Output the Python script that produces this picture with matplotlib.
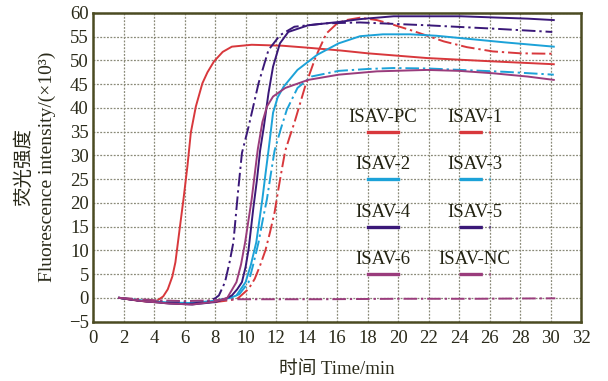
import matplotlib
matplotlib.use('Agg')
import matplotlib.pyplot as plt

plt.rcParams['font.family'] = ['Liberation Serif', 'Noto Sans CJK SC']

# --- data (time in min, intensity in x10^3) ---
t_pc = [1.7, 2.5, 3.5, 4.2, 4.6, 4.9, 5.2, 5.4, 5.65, 5.93, 6.19, 6.41, 6.74, 7.17, 7.5, 7.93, 8.5, 9.1, 10.4, 12.4, 14.0, 16.2, 18.0, 21.9, 26.2, 30.2]
v_pc = [0, -0.4, -0.8, -0.6, 0.3, 1.8, 4.5, 7.5, 13.8, 20.8, 27.8, 34.8, 40.3, 45.2, 47.5, 49.8, 51.8, 52.9, 53.3, 53.1, 52.7, 52.1, 51.5, 50.5, 49.8, 49.2]

t_1 = [1.7, 3.0, 5.0, 6.5, 8.0, 9.0, 9.5, 10.2, 10.6, 10.95, 11.3, 11.6, 11.9, 12.15, 12.4, 12.6, 12.9, 13.2, 13.9, 14.6, 15.3, 16.0, 16.6, 17.5, 18.6, 19.5, 20.8, 23.0, 24.5, 26.2, 28.0, 30.2]
v_1 = [0, -0.4, -0.9, -1.1, -0.9, -0.5, -0.1, 1.9, 4.0, 6.8, 10.0, 13.8, 18.0, 22.9, 27.5, 31.0, 34.0, 36.9, 44.5, 50.8, 55.7, 57.8, 58.5, 59.0, 58.5, 57.7, 56.4, 54.0, 52.8, 51.9, 51.5, 51.4]

t_2 = [1.7, 3.0, 5.0, 6.5, 8.0, 9.0, 9.4, 10.0, 10.35, 10.7, 11.1, 11.3, 11.5, 11.8, 12.1, 12.5, 13.4, 14.7, 16.1, 17.5, 19.0, 20.8, 22.5, 24.1, 27.0, 30.2]
v_2 = [0, -0.5, -1.0, -1.1, -0.6, 0.0, 0.5, 3.3, 7.0, 11.7, 20.8, 26.0, 31.0, 39.0, 42.2, 44.5, 48.0, 51.2, 53.6, 55.1, 55.5, 55.5, 55.2, 54.7, 53.8, 52.9]

t_3 = [1.7, 3.0, 5.0, 6.5, 8.0, 9.0, 9.6, 10.2, 10.5, 10.85, 11.1, 11.4, 11.65, 11.9, 12.3, 12.7, 13.4, 14.3, 16.1, 18.0, 19.7, 22.0, 24.1, 27.0, 30.2]
v_3 = [0, -0.5, -0.9, -1.0, -0.6, -0.1, 0.8, 3.3, 7.0, 11.7, 16.0, 20.8, 26.0, 31.0, 35.5, 39.6, 44.2, 46.6, 47.8, 48.2, 48.4, 48.3, 48.0, 47.6, 47.0]

t_4 = [1.7, 3.0, 5.0, 6.5, 8.0, 8.7, 9.1, 9.45, 9.76, 10.0, 10.2, 10.5, 10.75, 10.95, 11.2, 11.5, 11.8, 12.25, 12.8, 14.1, 16.1, 17.5, 19.7, 24.1, 28.5, 30.2]
v_4 = [0, -0.6, -1.2, -1.4, -0.9, -0.2, 0.5, 1.8, 3.3, 6.5, 10.3, 18.7, 25.0, 31.0, 36.1, 43.1, 48.7, 53.6, 56.0, 57.4, 58.1, 58.7, 59.3, 59.3, 58.8, 58.5]

t_5 = [1.7, 3.0, 5.0, 6.5, 7.5, 8.0, 8.25, 8.65, 8.95, 9.2, 9.5, 9.76, 10.2, 10.85, 11.5, 12.25, 13.2, 15.2, 17.5, 21.9, 26.2, 30.1]
v_5 = [0, -0.6, -1.1, -1.2, -0.8, -0.1, 0.5, 3.3, 7.5, 11.7, 22.2, 30.5, 36.1, 45.2, 52.2, 55.3, 57.1, 57.8, 58.0, 57.4, 56.7, 56.0]

t_6 = [1.7, 3.0, 5.0, 6.5, 8.0, 8.8, 9.4, 9.7, 9.97, 10.4, 10.8, 11.1, 11.4, 11.8, 12.6, 14.1, 16.1, 18.6, 21.9, 24.0, 26.2, 28.5, 30.2]
v_6 = [0, -0.6, -1.2, -1.4, -0.8, 0.0, 3.3, 7.0, 11.7, 20.8, 31.3, 37.0, 40.3, 42.4, 44.2, 45.9, 47.0, 47.7, 48.0, 47.8, 47.3, 46.6, 45.9]

t_nc = [1.7, 4.0, 6.0, 8.0, 9.5, 15.0, 20.0, 25.0, 30.3]
v_nc = [0, -0.5, -0.7, -0.5, -0.3, -0.3, -0.2, -0.2, -0.1]

labels = ['ISAV-PC', 'ISAV-1', 'ISAV-2', 'ISAV-3', 'ISAV-4', 'ISAV-5', 'ISAV-6', 'ISAV-NC']
x_ticks = list(range(0, 33, 2))
y_ticks = list(range(-5, 61, 5))

red = '#d8383c'
cyan = '#1ca2d8'
navy = '#3a1878'
plum = '#9a3c7c'
dashdot = (0, (7, 2, 1.2, 2))

series = [
    (t_pc, v_pc, red, '-'),
    (t_1, v_1, red, dashdot),
    (t_2, v_2, cyan, '-'),
    (t_3, v_3, cyan, dashdot),
    (t_4, v_4, navy, '-'),
    (t_5, v_5, navy, dashdot),
    (t_6, v_6, plum, '-'),
    (t_nc, v_nc, plum, dashdot),
]

fig = plt.figure(figsize=(6.08, 3.81), dpi=100)
ax = fig.add_axes([0.153, 0.156, 0.803, 0.81])

for (t, v, c, ls) in series:
    ax.plot(t, v, color=c, linestyle=ls, linewidth=1.4)

# hand-made legend: label above a short sample line, two columns
leg_x = [18, 24]
leg_y = [35, 25, 15, 5]
for i, (lab, s) in enumerate(zip(labels, series)):
    col = i % 2
    row = i // 2
    x0 = leg_x[col]
    y0 = leg_y[row]
    ax.plot([x0, x0 + 2], [y0, y0], color=s[2], linestyle=s[3], linewidth=2.4)
    ax.text(x0 + 1, y0 + 1.2, lab, ha='center', va='bottom', fontsize=13.5, color='#222211')

ax.set_xlim(0, 32)
ax.set_ylim(-5, 60)
ax.set_xticks(x_ticks)
ax.set_yticks(y_ticks)
ax.grid(True, color='#8a8a78', linestyle=(0, (1.5, 1.2)), linewidth=0.9)
ax.tick_params(length=0, labelsize=13.5, colors='#2a2a1a')
ax.tick_params(axis='x', pad=6)
ax.tick_params(axis='y', pad=3)
for sp in ax.spines.values():
    sp.set_color('#4b4b22')
    sp.set_linewidth(1.8)

ax.set_xlabel('时间 Time/min', fontsize=13.5, color='#2a2a1a', labelpad=10)
ax.set_ylabel('荧光强度\nFluorescence intensity/(×10³)', fontsize=14, color='#2a2a1a',
              linespacing=1.45, labelpad=9)

plt.savefig('out.png', dpi=100)
